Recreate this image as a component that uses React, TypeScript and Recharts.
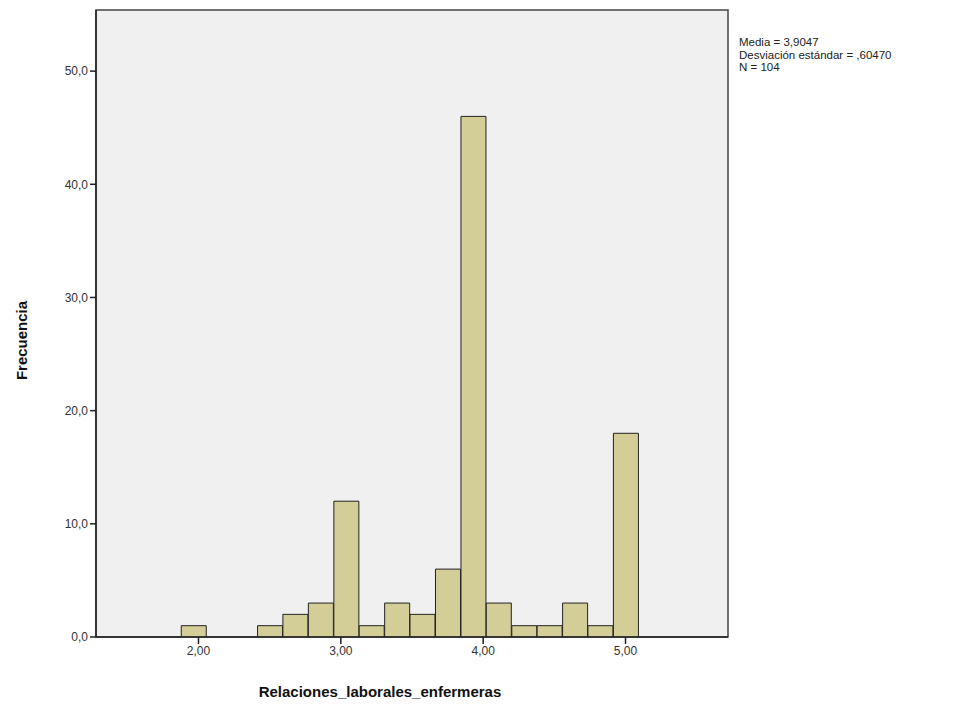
import { Bar, BarChart, CartesianGrid, ReferenceArea, XAxis, YAxis } from "recharts";

// histogram bins (bin centres) and their counts
const binCenters = [
  1.968, 2.147, 2.325, 2.504, 2.682, 2.861, 3.04, 3.218, 3.397,
  3.575, 3.754, 3.933, 4.111, 4.29, 4.468, 4.647, 4.825, 5.004,
];
const counts = [1, 0, 0, 1, 2, 3, 12, 1, 3, 2, 6, 46, 3, 1, 1, 3, 1, 18];

const xTicks = [2, 3, 4, 5];
const yTicks = [0, 10, 20, 30, 40, 50];
const statsLines = ["Media = 3,9047", "Desviación estándar = ,60470", "N = 104"];

const data = binCenters.map((x, i) => ({ x, count: counts[i] }));

const X_DOMAIN: [number, number] = [1.28, 5.72];
const Y_DOMAIN: [number, number] = [0, 55.4];

export default function App() {
  return (
    <div style={{ position: "absolute", left: 0, top: 0, width: 966, height: 706, fontFamily: "'Liberation Sans', Arial, sans-serif" }}>
      <BarChart
        width={966}
        height={706}
        data={data}
        margin={{ top: 10, right: 238, bottom: 29, left: 36 }}
        barCategoryGap={0}
        barGap={0}
      >
        <CartesianGrid fill="#F0F0F0" horizontal={false} vertical={false} />
        <XAxis
          dataKey="x"
          type="number"
          domain={X_DOMAIN}
          allowDataOverflow
          ticks={xTicks}
          tickFormatter={(v) => v.toFixed(2).replace(".", ",")}
          stroke="#222"
          strokeWidth={1.5}
          tickSize={7}
          height={40}
          tick={{ fill: "#333", fontSize: 12 }}
          label={{
            value: "Relaciones_laborales_enfermeras",
            position: "insideBottom",
            offset: -20,
            dx: -32,
            style: { fontWeight: "bold", fontSize: 15, fill: "#111" },
          }}
        />
        <YAxis
          type="number"
          domain={Y_DOMAIN}
          allowDataOverflow
          ticks={yTicks}
          tickFormatter={(v) => v.toFixed(1).replace(".", ",")}
          stroke="#222"
          strokeWidth={1.5}
          tickSize={6}
          width={60}
          tick={{ fill: "#333", fontSize: 12 }}
          label={{
            value: "Frecuencia",
            angle: -90,
            position: "insideLeft",
            offset: -14,
            dy: 17,
            style: { fontWeight: "bold", fontSize: 15, fill: "#111", textAnchor: "middle" },
          }}
        />
        <ReferenceArea
          x1={X_DOMAIN[0]}
          x2={X_DOMAIN[1]}
          y1={Y_DOMAIN[0]}
          y2={Y_DOMAIN[1]}
          fill="none"
          stroke="#444"
          strokeWidth={1.5}
        />
        <Bar dataKey="count" fill="#D3CE97" stroke="#222" strokeWidth={1} isAnimationActive={false} />
      </BarChart>
      <div style={{ position: "absolute", left: 739, top: 36, fontSize: 11.5, lineHeight: "12.5px", color: "#222" }}>
        {statsLines.map((s) => (
          <div key={s}>{s}</div>
        ))}
      </div>
    </div>
  );
}
